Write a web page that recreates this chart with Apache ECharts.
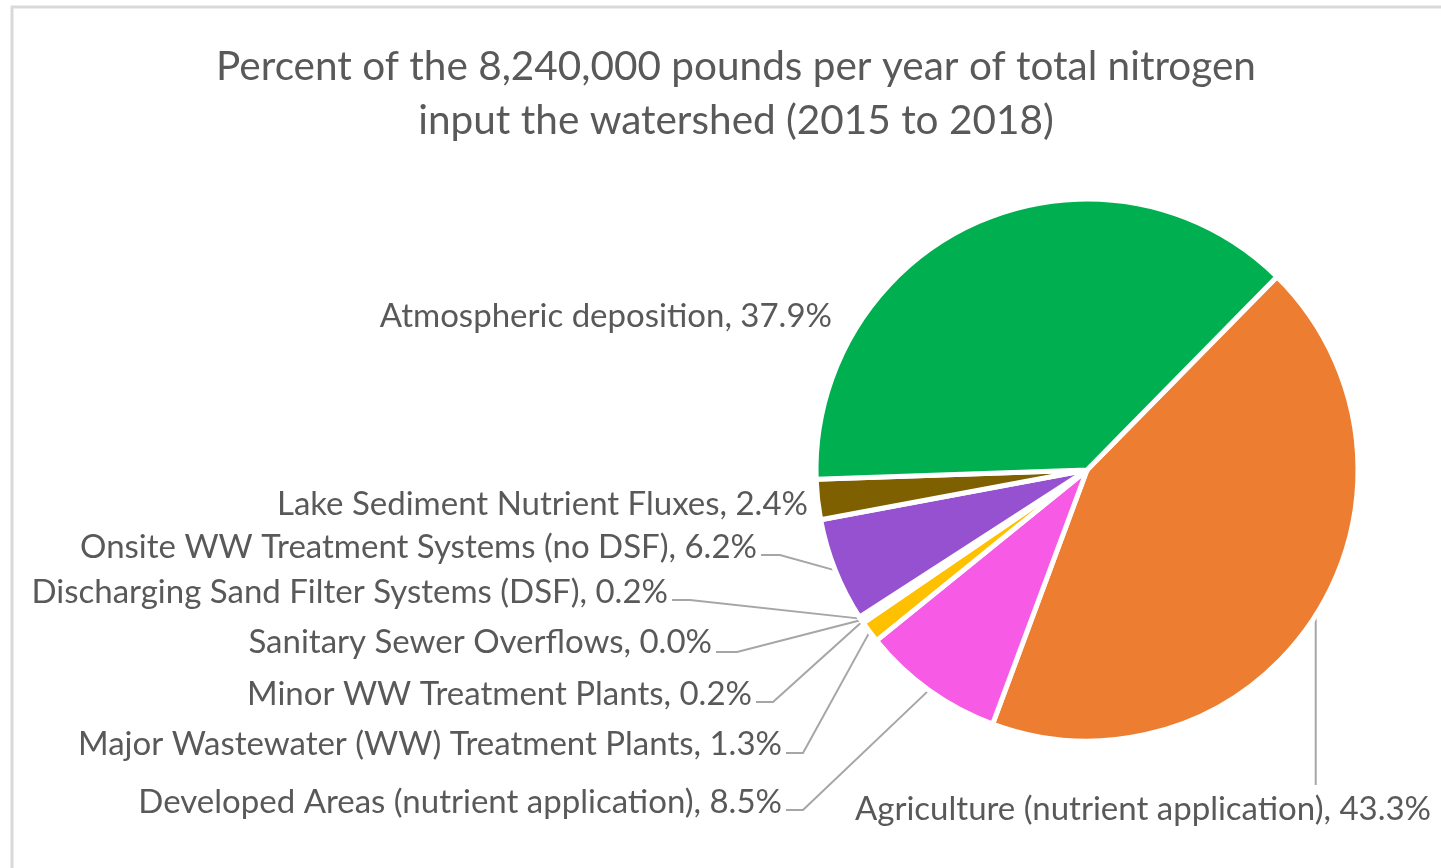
<!DOCTYPE html>
<html>
<head>
<meta charset="utf-8">
<title>Nitrogen input by source</title>
<script src="https://cdn.jsdelivr.net/npm/echarts@6/dist/echarts.min.js"></script>
<style>
  html, body { margin: 0; padding: 0; background: #ffffff; }
  #chart { width: 1441px; height: 868px; }
</style>
</head>
<body>
<div id="chart"></div>
<script>
// Sources of total nitrogen input, in clockwise order from the top-right
const sources = [
  'Agriculture (nutrient application)',
  'Developed Areas (nutrient application)',
  'Major Wastewater (WW) Treatment Plants',
  'Minor WW Treatment Plants',
  'Sanitary Sewer Overflows',
  'Discharging Sand Filter Systems (DSF)',
  'Onsite WW Treatment Systems (no DSF)',
  'Lake Sediment Nutrient Fluxes',
  'Atmospheric deposition'
];
// Share of the total, percent
const percents = [43.3, 8.5, 1.3, 0.2, 0.0, 0.2, 6.2, 2.4, 37.9];
const titleLines = [
  'Percent of the 8,240,000 pounds per year of total nitrogen',
  'input the watershed (2015 to 2018)'
];

const sliceColors = ['#ED7D31', '#F75BE5', '#FFC000', '#5B9BD5', '#A5A5A5',
                     '#4472C4', '#9551CF', '#7F6000', '#00B050'];

// Where each label sits (text anchor) and how its leader line bends
const labelSpots = [
  { x: 1143, y: 809, align: 'center', drop: 785 },
  { x: 782, y: 802, align: 'right', lineY: 810, elbowX: 803 },
  { x: 782, y: 744, align: 'right', lineY: 753, elbowX: 803 },
  { x: 752, y: 694, align: 'right', lineY: 702, elbowX: 773 },
  { x: 712, y: 642, align: 'right', lineY: 652, elbowX: 737 },
  { x: 668, y: 592, align: 'right', lineY: 600, elbowX: 690 },
  { x: 757, y: 547, align: 'right', lineY: 555, elbowX: 780 },
  { x: 808, y: 504, align: 'right', noLine: true },
  { x: 832, y: 316, align: 'right', noLine: true }
];

const FONT = 'Lato, "Open Sans", sans-serif';
const TEXT_GREY = '#595959';

const chart = echarts.init(document.getElementById('chart'), null, { renderer: 'canvas' });

const option = {
  animation: false,
  backgroundColor: '#ffffff',
  title: {
    text: titleLines.join('\n'),
    left: 731,
    top: 35,
    textAlign: 'center',
    textStyle: {
      fontFamily: FONT,
      fontSize: 40.5,
      fontWeight: 'normal',
      color: TEXT_GREY,
      lineHeight: 54
    }
  },
  graphic: [{
    type: 'rect',
    silent: true,
    shape: { x: 12, y: 7, width: 1500, height: 900 },
    style: { fill: 'none', stroke: '#d9d9d9', lineWidth: 3 }
  }],
  series: [{
    type: 'pie',
    center: [1087, 470],
    radius: 271,
    startAngle: 45.5,
    clockwise: true,
    avoidLabelOverlap: false,
    itemStyle: { borderColor: '#ffffff', borderWidth: 5 },
    label: {
      show: true,
      position: 'outside',
      fontFamily: FONT,
      fontSize: 33,
      color: TEXT_GREY,
      formatter: p => p.name + ', ' + p.value.toFixed(1) + '%'
    },
    labelLine: {
      show: true,
      length: 10,
      length2: 10,
      lineStyle: { color: '#a6a6a6', width: 2 }
    },
    labelLayout: function (params) {
      const spot = labelSpots[params.dataIndex];
      const res = { x: spot.x, y: spot.y, align: spot.align, verticalAlign: 'middle' };
      const pts = params.labelLinePoints;
      if (pts && pts.length) {
        const edge = pts[0];
        if (spot.noLine) {
          res.labelLinePoints = [edge, edge, edge];
        } else if (spot.drop != null) {
          res.labelLinePoints = [edge, [edge[0], (edge[1] + spot.drop) / 2], [edge[0], spot.drop]];
        } else {
          res.labelLinePoints = [edge, [spot.elbowX, spot.lineY], [spot.x + 4, spot.lineY]];
        }
      }
      return res;
    },
    data: sources.map((name, i) => ({
      name: name,
      value: percents[i],
      itemStyle: { color: sliceColors[i] },
      labelLine: { show: !labelSpots[i].noLine }
    }))
  }]
};

chart.setOption(option);
</script>
</body>
</html>
